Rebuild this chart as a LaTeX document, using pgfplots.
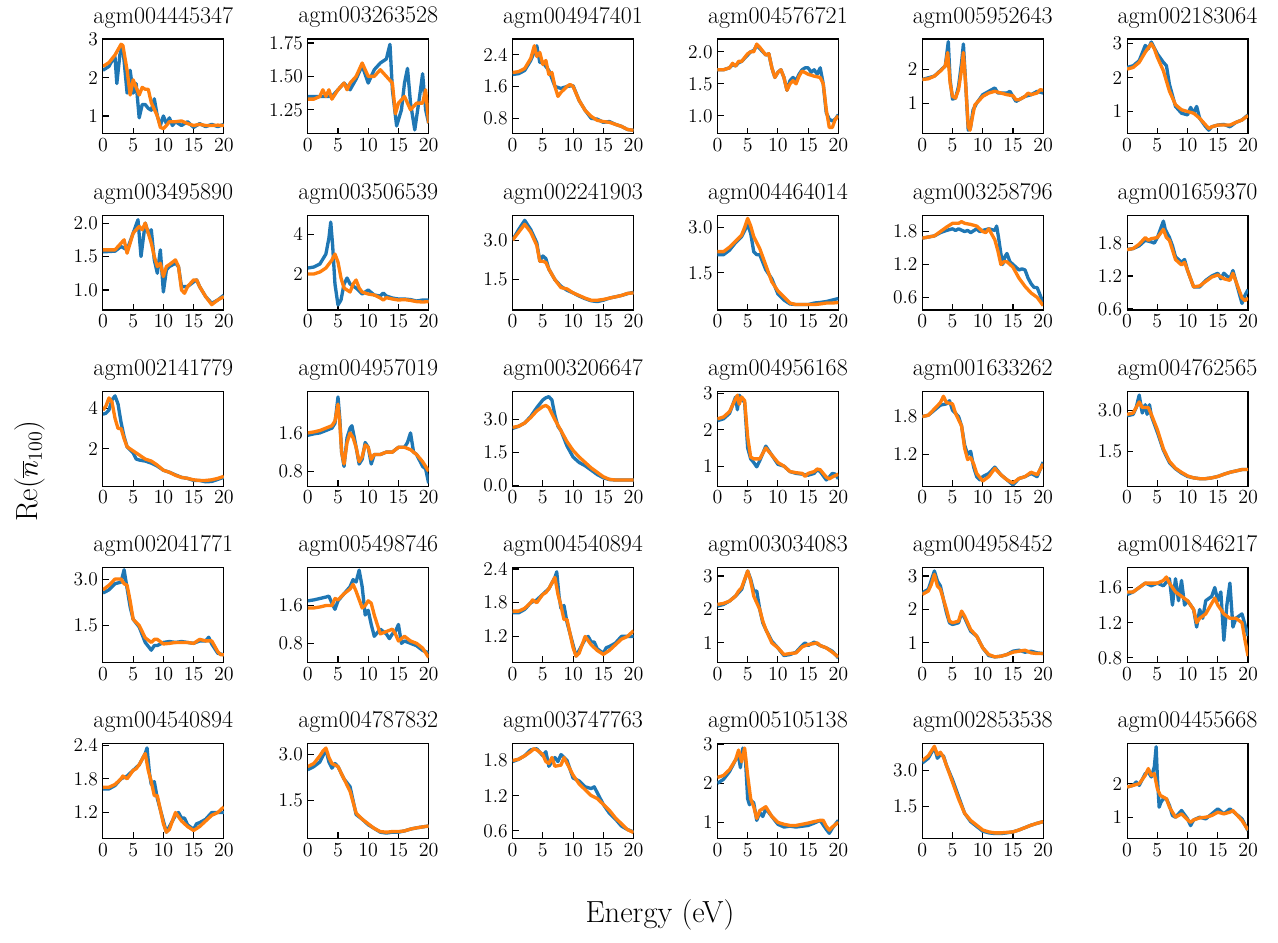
\documentclass[border=0pt]{standalone}
\usepackage{pgfplots}
\pgfplotsset{compat=1.18}
\usepgfplotslibrary{groupplots}
\usetikzlibrary{calc}
\definecolor{mplblue}{RGB}{31,119,180}
\definecolor{mplorange}{RGB}{255,127,14}
\pgfplotsset{
  bl/.style={color=mplblue, line width=2.4pt, line join=round, no markers},
  or/.style={color=mplorange, line width=2.4pt, line join=round, no markers},
  every axis title/.style={at={(0.5,1)}, anchor=base, yshift=11.5pt, font=\fontsize{17.3}{20}\selectfont},
}
\begin{document}
\begin{tikzpicture}
\begin{groupplot}[
  group style={group size=6 by 5, horizontal sep=60.48pt, vertical sep=58.5pt},
  width=87.12pt, height=68.4pt, scale only axis,
  xmin=0, xmax=20, xtick={0,5,10,15,20},
  tick pos=left, tick align=inside, major tick length=4.5pt,
  tick style={line width=0.8pt, black},
  axis line style={line width=0.8pt},
  ticklabel style={font=\fontsize{14}{16}\selectfont},
]
% row 1
\nextgroupplot[title={agm004445347}, ymin=0.53, ymax=3.02, ytick={1,2,3}, yticklabels={1,2,3}]
\addplot[bl] coordinates {(0,2.2) (1,2.3) (1.5,2.45) (2,2.55) (2.3,1.85) (2.8,2.6) (3.2,2.85) (3.5,2.45) (4,1.6) (4.5,2.2) (5,1.6) (5.5,1.85) (6,0.95) (6.5,1.3) (7,1.3) (7.5,1.2) (8,1.15) (8.5,1.45) (9,1.0) (9.5,0.75) (10,1.0) (10.5,0.8) (11,0.95) (11.5,0.75) (12,0.85) (13,0.75) (14,0.85) (15,0.7) (16,0.8) (17,0.72) (18,0.78) (19,0.72) (20,0.78)};
\addplot[or] coordinates {(0,2.3) (1,2.4) (2,2.6) (3,2.88) (3.3,2.85) (4,2.2) (4.5,1.55) (5,1.95) (5.5,1.75) (6,1.55) (6.5,1.75) (7,1.7) (7.5,1.7) (8,1.35) (9,1.0) (9.5,0.7) (10,0.67) (10.5,0.75) (11,0.85) (12,0.85) (13,0.87) (14,0.8) (15,0.75) (16,0.78) (17,0.75) (18,0.75) (19,0.76) (20,0.75)};
\nextgroupplot[title={agm003263528}, ymin=1.07, ymax=1.78, ytick={1.25,1.5,1.75}, yticklabels={1.25,1.50,1.75}]
\addplot[bl] coordinates {(0,1.35) (2,1.35) (4,1.35) (5,1.4) (6,1.45) (7,1.4) (8,1.48) (9,1.58) (10,1.45) (11,1.55) (12,1.6) (13,1.63) (13.6,1.74) (14,1.4) (14.7,1.13) (15.5,1.25) (16,1.45) (16.5,1.56) (17,1.3) (17.7,1.1) (18.5,1.35) (19,1.52) (19.5,1.25) (20,1.15)};
\addplot[or] coordinates {(0,1.33) (1,1.33) (2,1.35) (2.5,1.4) (3,1.35) (3.5,1.4) (4,1.33) (5,1.4) (6,1.45) (6.5,1.4) (7,1.45) (8,1.5) (9,1.6) (10,1.5) (11,1.5) (12,1.55) (13,1.5) (14,1.45) (14.5,1.22) (15,1.3) (16,1.35) (17,1.25) (18,1.3) (19,1.3) (19.5,1.4) (20,1.15)};
\nextgroupplot[title={agm004947401}, ymin=0.41, ymax=2.79, ytick={0.8,1.6,2.4}, yticklabels={0.8,1.6,2.4}]
\addplot[bl] coordinates {(0,1.9) (1,1.92) (2,2.0) (3,2.25) (4,2.62) (4.5,2.2) (5,2.2) (6,2.0) (7,1.6) (8,1.55) (9,1.6) (10,1.62) (11,1.25) (12,1.0) (13,0.8) (14,0.78) (15,0.7) (16,0.72) (17,0.65) (18,0.6) (19,0.52) (20,0.5)};
\addplot[or] coordinates {(0,1.95) (1,1.97) (2,2.05) (3,2.3) (3.6,2.62) (4,2.35) (4.5,2.45) (5,2.15) (5.5,2.25) (6,1.9) (6.5,1.95) (7,1.6) (7.5,1.35) (8,1.45) (9,1.6) (9.5,1.65) (10,1.6) (11,1.25) (12,1.0) (13,0.85) (14,0.75) (15,0.72) (16,0.7) (17,0.65) (18,0.6) (19,0.52) (20,0.5)};
\nextgroupplot[title={agm004576721}, ymin=0.72, ymax=2.2, ytick={1,1.5,2}, yticklabels={1.0,1.5,2.0}]
\addplot[bl] coordinates {(0,1.72) (1,1.72) (2,1.75) (2.5,1.8) (3,1.78) (3.5,1.83) (4,1.85) (5,1.95) (5.5,2.0) (6,2.02) (6.5,2.1) (7,2.05) (8,1.95) (8.5,1.97) (9,1.75) (9.5,1.6) (10,1.68) (10.5,1.72) (11,1.6) (11.5,1.4) (12,1.55) (12.5,1.6) (13,1.55) (13.5,1.65) (14,1.72) (14.5,1.75) (15,1.75) (15.5,1.68) (16,1.72) (16.5,1.65) (17,1.75) (17.5,1.5) (18,1.05) (18.5,0.95) (19,0.92) (19.5,0.95) (20,1.02)};
\addplot[or] coordinates {(0,1.72) (1,1.72) (2,1.75) (2.5,1.82) (3,1.78) (3.5,1.85) (4,1.85) (5,1.97) (5.5,2.0) (6,2.0) (6.5,2.12) (7,2.07) (8,1.95) (8.5,1.97) (9,1.75) (9.5,1.6) (10,1.68) (10.5,1.72) (11,1.6) (11.5,1.4) (12,1.5) (12.5,1.55) (13,1.5) (13.5,1.62) (14,1.7) (15,1.65) (16,1.62) (17,1.6) (17.5,1.5) (18,1.1) (18.5,0.82) (19,0.82) (19.5,0.95) (20,1.0)};
\nextgroupplot[title={agm005952643}, ymin=0.09, ymax=2.9, ytick={1,2}, yticklabels={1,2}]
\addplot[bl] coordinates {(0,1.7) (2,1.8) (3.8,2.1) (4.3,2.82) (4.6,1.7) (5,1.12) (5.5,1.15) (6,1.5) (6.5,2.2) (6.8,2.75) (7.2,1.5) (7.6,0.2) (8,0.3) (8.4,0.8) (9,1.0) (10,1.25) (11,1.35) (12,1.45) (12.5,1.3) (13,1.3) (14,1.3) (14.5,1.35) (15,1.2) (15.5,1.05) (16,1.1) (17,1.2) (18,1.25) (19,1.35) (20,1.3)};
\addplot[or] coordinates {(0,1.7) (1,1.72) (2,1.8) (3,1.95) (3.8,2.1) (4.2,2.5) (4.6,1.6) (5,1.2) (5.5,1.15) (6,1.4) (6.5,2.0) (6.8,2.5) (7.2,1.5) (7.6,0.3) (7.9,0.2) (8.3,0.6) (8.7,0.95) (9.5,1.1) (10,1.2) (11,1.3) (12,1.35) (13,1.3) (14,1.25) (15,1.22) (15.5,1.1) (16,1.1) (17,1.2) (17.5,1.3) (18,1.25) (19,1.3) (19.5,1.4) (20,1.38)};
\nextgroupplot[title={agm002183064}, ymin=0.34, ymax=3.14, ytick={1,2,3}, yticklabels={1,2,3}]
\addplot[bl] coordinates {(0,2.3) (1,2.35) (2,2.5) (3,2.95) (3.5,2.85) (4,3.05) (5,2.7) (6,2.45) (6.5,2.35) (7,1.8) (8,1.15) (9,0.95) (10,0.9) (10.5,1.12) (11,0.95) (11.5,1.15) (12,0.8) (13,0.55) (13.5,0.45) (14,0.55) (15,0.6) (16,0.62) (17,0.55) (18,0.68) (19,0.75) (20,0.9)};
\addplot[or] coordinates {(0,2.25) (1,2.3) (2,2.45) (3,2.75) (4,3.0) (4.5,2.85) (5,2.6) (6,2.2) (7,1.6) (8,1.2) (9,1.05) (10,1.0) (11,0.95) (12,0.8) (13,0.6) (13.5,0.5) (14,0.55) (15,0.6) (16,0.6) (17,0.6) (18,0.68) (19,0.75) (20,0.88)};
% row 2
\nextgroupplot[title={agm003495890}, ymin=0.7, ymax=2.12, ytick={1,1.5,2}, yticklabels={1.0,1.5,2.0}]
\addplot[bl] coordinates {(0,1.57) (2,1.58) (3,1.65) (4,1.6) (5,1.85) (5.8,2.05) (6.3,1.5) (7,2.0) (7.5,1.85) (8,1.9) (8.5,1.45) (9,1.25) (9.5,1.6) (10,0.97) (10.5,1.3) (11,1.35) (12,1.4) (12.5,1.35) (13,1.05) (14,1.05) (15,1.12) (15.5,1.15) (16,1.05) (17,0.9) (18,0.8) (19,0.85) (20,0.92)};
\addplot[or] coordinates {(0,1.6) (1,1.6) (2,1.6) (3,1.7) (3.5,1.75) (4,1.55) (4.5,1.7) (5,1.85) (6,1.95) (6.5,1.9) (7,2.0) (7.5,1.85) (8,1.7) (8.5,1.5) (9,1.35) (9.5,1.4) (10,1.2) (10.5,1.35) (11,1.38) (12,1.45) (12.5,1.35) (13,1.0) (13.5,0.95) (14,1.05) (15,1.15) (15.5,1.15) (16,1.05) (17,0.9) (18,0.78) (19,0.85) (20,0.9)};
\nextgroupplot[title={agm003506539}, ymin=0.2, ymax=4.95, ytick={2,4}, yticklabels={2,4}]
\addplot[bl] coordinates {(0,2.3) (1,2.35) (2,2.5) (3,3.0) (3.5,3.8) (3.8,4.6) (4.1,3.5) (4.5,1.5) (5,0.45) (5.5,0.7) (6,1.5) (6.5,1.8) (7,1.5) (8,1.3) (9,1.0) (10,1.2) (11,0.95) (12,0.9) (12.5,1.05) (13,0.9) (14,0.8) (15,0.75) (16,0.75) (17,0.72) (18,0.65) (19,0.7) (20,0.7)};
\addplot[or] coordinates {(0,2.0) (1,2.0) (2,2.1) (3,2.3) (4,2.7) (4.5,3.0) (5,2.6) (5.5,1.8) (6,1.3) (6.5,1.2) (7,1.1) (7.5,1.5) (8,1.7) (8.5,1.3) (9,1.1) (10,1.0) (11,0.95) (12,0.8) (12.5,0.7) (13,0.82) (14,0.75) (15,0.7) (16,0.72) (17,0.68) (18,0.62) (19,0.6) (20,0.62)};
\nextgroupplot[title={agm002241903}, ymin=0.35, ymax=3.95, ytick={1.5,3}, yticklabels={1.5,3.0}]
\addplot[bl] coordinates {(0,3.0) (1,3.4) (2,3.75) (3,3.4) (4,2.9) (4.5,2.2) (5,2.4) (5.5,2.3) (6,1.9) (7,1.5) (8,1.25) (9,1.1) (10,1.0) (11,0.88) (12,0.78) (13,0.7) (14,0.67) (15,0.72) (16,0.8) (17,0.85) (18,0.9) (19,0.97) (20,1.02)};
\addplot[or] coordinates {(0,3.0) (1,3.3) (2,3.6) (3,3.3) (4,2.8) (4.5,2.2) (5,2.2) (5.5,2.15) (6,1.9) (7,1.5) (8,1.2) (9,1.15) (10,1.0) (11,0.9) (12,0.8) (13,0.72) (14,0.72) (15,0.75) (16,0.8) (17,0.85) (18,0.9) (19,0.98) (20,1.0)};
\nextgroupplot[title={agm004464014}, ymin=0.27, ymax=3.41, ytick={1.5,3}, yticklabels={1.5,3.0}]
\addplot[bl] coordinates {(0,2.1) (1,2.1) (2,2.25) (3,2.5) (4,2.7) (5,3.1) (5.5,2.8) (6,2.2) (6.5,2.1) (7,2.1) (8,1.6) (9,1.3) (10,0.8) (11,0.6) (12,0.47) (13,0.45) (14,0.45) (15,0.45) (16,0.5) (17,0.52) (18,0.55) (19,0.6) (20,0.65)};
\addplot[or] coordinates {(0,2.2) (1,2.2) (2,2.35) (3,2.55) (4,2.75) (4.5,3.0) (5,3.3) (5.5,3.05) (6,2.7) (7,2.3) (8,1.75) (9,1.2) (10,0.9) (11,0.7) (12,0.5) (13,0.45) (14,0.45) (15,0.45) (16,0.45) (17,0.47) (18,0.5) (19,0.5) (20,0.52)};
\nextgroupplot[title={agm003258796}, ymin=0.37, ymax=2.1, ytick={0.6,1.2,1.8}, yticklabels={0.6,1.2,1.8}]
\addplot[bl] coordinates {(0,1.68) (2,1.72) (3,1.78) (4,1.82) (5,1.85) (5.5,1.82) (6,1.85) (7,1.8) (7.5,1.82) (8,1.78) (9,1.85) (9.5,1.8) (10,1.82) (11,1.85) (12,1.82) (12.3,1.9) (12.6,1.7) (13,1.4) (13.3,1.2) (13.7,1.35) (14,1.4) (14.5,1.25) (15,1.2) (15.5,1.15) (16,1.1) (16.5,1.12) (17,1.1) (17.5,0.95) (18,0.85) (18.5,0.78) (19,0.78) (20,0.5)};
\addplot[or] coordinates {(0,1.68) (1,1.7) (2,1.72) (3,1.8) (4,1.88) (5,1.95) (6,1.95) (6.5,1.98) (7,1.95) (8,1.93) (9,1.9) (10,1.8) (10.5,1.78) (11,1.85) (12,1.65) (12.5,1.45) (13,1.2) (13.5,1.25) (14,1.25) (15,1.15) (16,0.95) (17,0.8) (18,0.68) (19,0.6) (20,0.45)};
\nextgroupplot[title={agm001659370}, ymin=0.58, ymax=2.31, ytick={0.6,1.2,1.8}, yticklabels={0.6,1.2,1.8}]
\addplot[bl] coordinates {(0,1.68) (1,1.7) (2,1.75) (3,1.85) (4,1.82) (4.5,1.8) (5,1.9) (6,2.2) (6.3,2.05) (7,1.9) (7.5,1.75) (8,1.55) (9,1.45) (9.5,1.5) (10,1.3) (11,1.0) (12,1.0) (13,1.12) (14,1.2) (15,1.25) (15.5,1.15) (16,1.25) (16.5,1.2) (17,1.15) (17.5,1.3) (18,1.1) (19,0.7) (19.5,0.85) (20,0.95)};
\addplot[or] coordinates {(0,1.68) (1,1.7) (2,1.78) (3,1.9) (3.5,1.85) (4,1.88) (5,1.9) (6,2.05) (6.5,1.9) (7,1.85) (8,1.5) (9,1.4) (9.5,1.45) (10,1.3) (11,1.0) (12,1.02) (13,1.1) (14,1.18) (15,1.22) (16,1.15) (17,1.12) (17.5,1.25) (18,1.1) (19,0.8) (19.5,0.75) (20,0.8)};
% row 3
\nextgroupplot[title={agm002141779}, ymin=0.17, ymax=4.83, ytick={2,4}, yticklabels={2,4}]
\addplot[bl] coordinates {(0,3.7) (0.5,3.75) (1,3.9) (1.5,4.4) (2,4.6) (2.5,4.2) (3,3.3) (3.5,2.6) (4,2.1) (5,1.8) (5.5,1.5) (6,1.45) (7,1.4) (8,1.3) (9,1.15) (10,0.95) (11,0.85) (12,0.72) (13,0.6) (14,0.55) (15,0.45) (16,0.45) (17,0.38) (18,0.4) (19,0.5) (20,0.6)};
\addplot[or] coordinates {(0,3.9) (0.5,4.1) (1,4.5) (1.5,4.3) (2,3.5) (2.5,3.0) (3,3.0) (3.5,2.5) (4,2.1) (5,1.9) (6,1.7) (7,1.5) (8,1.4) (9,1.2) (10,0.95) (11,0.85) (12,0.7) (13,0.6) (14,0.55) (15,0.48) (16,0.45) (17,0.45) (18,0.48) (19,0.55) (20,0.65)};
\nextgroupplot[title={agm004957019}, ymin=0.49, ymax=2.47, ytick={0.8,1.6}, yticklabels={0.8,1.6}]
\addplot[bl] coordinates {(0,1.55) (1,1.58) (2,1.6) (3,1.65) (4,1.7) (4.5,1.8) (5,2.35) (5.3,1.9) (5.6,1.2) (6,0.9) (6.5,1.5) (7,1.7) (7.3,1.75) (7.7,1.5) (8,1.3) (8.5,0.95) (9,1.05) (9.5,1.4) (10,1.3) (10.5,0.95) (11,1.15) (12,1.15) (13,1.2) (14,1.2) (15,1.3) (16,1.3) (16.5,1.4) (17,1.6) (17.5,1.2) (18,1.15) (19,0.9) (19.5,0.85) (20,0.55)};
\addplot[or] coordinates {(0,1.6) (1,1.62) (2,1.65) (3,1.7) (4,1.75) (4.5,1.85) (5,2.2) (5.3,1.8) (5.6,1.2) (6,0.95) (6.5,1.4) (7,1.6) (7.5,1.5) (8,1.3) (8.5,1.0) (9,1.1) (9.5,1.35) (10,1.3) (10.5,1.05) (11,1.15) (12,1.15) (13,1.2) (14,1.2) (15,1.3) (16,1.3) (17,1.25) (18,1.15) (19,1.0) (19.5,0.9) (20,0.8)};
\nextgroupplot[title={agm003206647}, ymin=-0.03, ymax=4.3, ytick={0,1.5,3}, yticklabels={0.0,1.5,3.0}]
\addplot[bl] coordinates {(0,2.6) (1,2.7) (2,2.85) (3,3.15) (4,3.55) (5,3.9) (5.5,4.0) (6,4.05) (6.5,3.9) (7,3.2) (7.5,2.7) (8,2.5) (9,1.8) (10,1.3) (11,1.05) (12,0.9) (13,0.7) (14,0.5) (15,0.35) (16,0.27) (17,0.25) (18,0.25) (19,0.25) (20,0.25)};
\addplot[or] coordinates {(0,2.65) (1,2.7) (2,2.85) (3,3.1) (4,3.4) (5,3.6) (5.5,3.65) (6,3.55) (7,3.0) (8,2.5) (9,2.0) (10,1.6) (11,1.3) (12,1.05) (13,0.8) (14,0.6) (15,0.4) (16,0.28) (17,0.25) (18,0.25) (19,0.25) (20,0.25)};
\nextgroupplot[title={agm004956168}, ymin=0.45, ymax=3.06, ytick={1,2,3}, yticklabels={1,2,3}]
\addplot[bl] coordinates {(0,2.25) (1,2.3) (2,2.45) (3,2.9) (3.3,2.55) (3.6,2.95) (4,2.85) (4.5,2.75) (5,1.5) (5.5,1.2) (6,1.1) (6.5,0.98) (7,1.15) (8,1.55) (9,1.3) (10,1.05) (11,1.0) (12,0.85) (13,0.8) (14,0.78) (15,0.75) (16,0.8) (16.5,0.9) (17,0.85) (18,0.62) (18.5,0.7) (19,0.8) (19.5,0.78) (20,0.65)};
\addplot[or] coordinates {(0,2.3) (1,2.35) (2,2.5) (3,2.85) (3.3,2.95) (3.6,2.7) (4,2.9) (4.5,2.8) (5,1.8) (5.5,1.25) (6,1.2) (7,1.2) (7.5,1.35) (8,1.5) (9,1.3) (10,1.1) (11,1.0) (12,0.85) (13,0.82) (14,0.8) (14.5,0.72) (15,0.8) (16,0.85) (16.5,0.92) (17,0.9) (18,0.7) (18.5,0.65) (19,0.7) (20,0.78)};
\nextgroupplot[title={agm001633262}, ymin=0.7, ymax=2.2, ytick={1.2,1.8}, yticklabels={1.2,1.8}]
\addplot[bl] coordinates {(0,1.8) (1,1.82) (2,1.9) (3,1.98) (4,2.0) (4.5,2.05) (5,1.9) (5.5,1.85) (6,1.8) (6.5,1.65) (7,1.35) (7.5,1.2) (8,1.25) (8.5,1.0) (9,0.85) (9.5,0.8) (10,0.85) (11,0.9) (12,1.0) (13,0.88) (14,0.8) (15,0.72) (16,0.82) (17,0.85) (18,0.9) (19,0.85) (20,1.08)};
\addplot[or] coordinates {(0,1.8) (1,1.82) (2,1.92) (3,2.02) (3.5,2.12) (4,2.02) (5,2.0) (5.5,1.85) (6,1.75) (6.5,1.65) (7,1.3) (7.5,1.12) (8,1.15) (8.5,1.05) (9,0.9) (10,0.78) (11,0.85) (12,0.98) (13,0.88) (14,0.8) (15,0.75) (16,0.82) (17,0.85) (18,0.92) (19,0.88) (20,1.05)};
\nextgroupplot[title={agm004762565}, ymin=0.25, ymax=3.69, ytick={1.5,3}, yticklabels={1.5,3.0}]
\addplot[bl] coordinates {(0,2.8) (1,2.85) (1.5,3.1) (2,3.55) (2.5,2.9) (3,3.2) (3.3,2.85) (3.7,3.2) (4,2.8) (5,2.2) (6,1.55) (7,1.1) (8,0.88) (9,0.72) (10,0.6) (11,0.55) (12,0.52) (13,0.52) (14,0.55) (15,0.6) (16,0.68) (17,0.75) (18,0.8) (19,0.85) (20,0.85)};
\addplot[or] coordinates {(0,2.85) (1,2.9) (2,3.3) (2.5,3.1) (3,3.1) (3.5,3.1) (4,2.85) (5,2.3) (6,1.6) (7,1.15) (8,0.9) (9,0.75) (10,0.62) (11,0.55) (12,0.52) (13,0.52) (14,0.55) (15,0.6) (16,0.68) (17,0.75) (18,0.8) (19,0.85) (20,0.85)};
% row 4
\nextgroupplot[title={agm002041771}, ymin=0.31, ymax=3.38, ytick={1.5,3}, yticklabels={1.5,3.0}]
\addplot[bl] coordinates {(0,2.55) (1,2.65) (2,2.85) (3,2.9) (3.5,3.3) (4,2.7) (4.5,2.1) (5,1.7) (6,1.45) (7,0.95) (8,0.7) (8.5,0.85) (9,0.85) (10,0.95) (11,0.98) (12,0.95) (13,0.98) (14,0.95) (15,0.92) (16,1.0) (17,1.0) (17.5,1.12) (18,0.9) (19,0.6) (20,0.55)};
\addplot[or] coordinates {(0,2.65) (1,2.8) (2,3.0) (3,3.0) (3.5,2.85) (4,2.8) (4.5,2.3) (5,1.7) (6,1.5) (7,1.1) (8,0.95) (8.5,1.05) (9,1.05) (10,0.9) (11,0.92) (12,0.95) (13,0.95) (14,0.95) (15,0.92) (16,1.05) (17,1.0) (18,1.0) (19,0.65) (19.5,0.55) (20,0.55)};
\nextgroupplot[title={agm005498746}, ymin=0.4, ymax=2.41, ytick={0.8,1.6}, yticklabels={0.8,1.6}]
\addplot[bl] coordinates {(0,1.7) (1,1.72) (2,1.75) (3,1.78) (3.5,1.8) (4,1.65) (4.5,1.52) (5,1.7) (6,1.85) (7,2.0) (7.5,2.15) (8,2.1) (8.5,2.35) (9,2.0) (9.5,1.4) (10,1.5) (10.5,1.2) (11,0.95) (12,1.1) (12.5,1.05) (13,1.0) (13.5,0.9) (14,1.0) (14.5,1.05) (15,1.2) (15.5,0.8) (16,0.85) (17,0.8) (18,0.75) (19,0.65) (20,0.6)};
\addplot[or] coordinates {(0,1.55) (1,1.55) (2,1.57) (3,1.6) (4,1.6) (4.5,1.75) (5,1.72) (6,1.85) (7,1.95) (7.5,2.05) (8,1.9) (9,1.55) (9.5,1.6) (10,1.7) (10.5,1.65) (11,1.4) (12,1.0) (13,1.05) (14,1.1) (14.5,1.0) (15,0.85) (16,0.95) (17,0.85) (18,0.8) (19,0.7) (20,0.5)};
\nextgroupplot[title={agm004540894}, ymin=0.74, ymax=2.43, ytick={1.2,1.8,2.4}, yticklabels={1.2,1.8,2.4}]
\addplot[bl] coordinates {(0,1.62) (1,1.62) (2,1.68) (3,1.8) (4,1.85) (5,1.95) (6,2.05) (7,2.25) (7.3,2.35) (7.7,1.9) (8,1.7) (8.5,1.75) (9,1.45) (10,1.05) (10.5,0.85) (11,0.95) (12,1.15) (12.5,1.2) (13,1.1) (13.5,1.1) (14,0.98) (15,0.9) (15.5,1.0) (16,1.02) (17,1.08) (18,1.2) (19,1.2) (20,1.2)};
\addplot[or] coordinates {(0,1.65) (1,1.65) (2,1.7) (3,1.8) (3.3,1.85) (4,1.8) (5,1.95) (5.5,1.98) (6,2.05) (6.5,2.15) (7,2.25) (7.5,1.95) (8,1.75) (8.5,1.5) (9,1.5) (10,1.0) (10.5,0.85) (11,0.9) (12,1.2) (13,1.05) (14,0.95) (15,0.88) (16,0.95) (17,1.05) (18,1.15) (19,1.2) (20,1.3)};
\nextgroupplot[title={agm003034083}, ymin=0.42, ymax=3.26, ytick={1,2,3}, yticklabels={1,2,3}]
\addplot[bl] coordinates {(0,2.1) (1,2.15) (2,2.25) (3,2.4) (4,2.6) (5,3.15) (5.5,2.9) (6,2.55) (6.5,2.55) (7,2.0) (7.5,1.6) (8,1.4) (9,1.05) (10,0.85) (11,0.62) (12,0.65) (13,0.72) (14,0.92) (14.5,1.0) (15,0.92) (16,1.02) (17,0.92) (18,0.85) (19,0.75) (20,0.55)};
\addplot[or] coordinates {(0,2.15) (1,2.18) (2,2.25) (3,2.4) (3.5,2.55) (4,2.65) (4.5,2.9) (5,3.15) (5.5,2.85) (6,2.4) (7,2.0) (7.5,1.65) (8,1.4) (9,1.0) (10,0.85) (10.5,0.75) (11,0.65) (12,0.68) (13,0.7) (14,0.88) (15,0.95) (16,0.98) (16.5,1.0) (17,0.92) (18,0.85) (19,0.72) (20,0.58)};
\nextgroupplot[title={agm004958452}, ymin=0.42, ymax=3.26, ytick={1,2,3}, yticklabels={1,2,3}]
\addplot[bl] coordinates {(0,2.5) (1,2.6) (2,3.15) (2.5,2.85) (3,2.7) (4,1.9) (4.5,1.6) (5,1.55) (6,1.6) (6.5,1.9) (7,1.75) (8,1.35) (9,1.2) (10,0.85) (11,0.62) (12,0.58) (13,0.6) (14,0.65) (15,0.75) (16,0.78) (17,0.72) (18,0.75) (19,0.7) (20,0.68)};
\addplot[or] coordinates {(0,2.45) (1,2.55) (1.5,2.75) (2,3.05) (2.5,2.7) (3,2.6) (4,2.0) (4.5,1.65) (5,1.6) (6,1.65) (6.5,1.95) (7,1.8) (8,1.4) (9,1.2) (10,0.85) (11,0.65) (12,0.58) (13,0.6) (14,0.65) (15,0.72) (16,0.75) (17,0.78) (18,0.7) (19,0.68) (20,0.68)};
\nextgroupplot[title={agm001846217}, ymin=0.75, ymax=1.83, ytick={0.8,1.2,1.6}, yticklabels={0.8,1.2,1.6}]
\addplot[bl] coordinates {(0,1.52) (1,1.55) (2,1.6) (3,1.65) (4,1.62) (5,1.65) (6,1.62) (7,1.7) (7.5,1.4) (8,1.7) (8.5,1.45) (9,1.68) (9.5,1.4) (10,1.45) (11,1.35) (11.5,1.15) (12,1.35) (12.5,1.25) (13,1.45) (14,1.5) (14.5,1.6) (15,1.45) (15.5,1.55) (16,1.0) (16.5,1.4) (17,1.65) (17.5,1.15) (18,1.25) (19,1.3) (20,1.05)};
\addplot[or] coordinates {(0,1.55) (1,1.55) (2,1.6) (3,1.65) (4,1.65) (5,1.65) (6,1.68) (6.5,1.72) (7,1.65) (8,1.55) (9,1.5) (10,1.45) (11,1.35) (11.5,1.2) (12,1.25) (13,1.3) (14,1.42) (14.5,1.48) (15,1.4) (16,1.3) (17,1.25) (18,1.25) (19,1.2) (19.5,1.0) (20,0.82)};
% row 5
\nextgroupplot[title={agm004540894}, ymin=0.74, ymax=2.43, ytick={1.2,1.8,2.4}, yticklabels={1.2,1.8,2.4}]
\addplot[bl] coordinates {(0,1.62) (1,1.62) (2,1.68) (3,1.8) (4,1.85) (5,1.95) (6,2.05) (7,2.25) (7.3,2.35) (7.7,1.9) (8,1.7) (8.5,1.75) (9,1.45) (10,1.05) (10.5,0.85) (11,0.95) (12,1.15) (12.5,1.2) (13,1.1) (13.5,1.1) (14,0.98) (15,0.9) (15.5,1.0) (16,1.02) (17,1.08) (18,1.2) (19,1.2) (20,1.2)};
\addplot[or] coordinates {(0,1.65) (1,1.65) (2,1.7) (3,1.8) (3.3,1.85) (4,1.8) (5,1.95) (5.5,1.98) (6,2.05) (6.5,2.15) (7,2.25) (7.5,1.95) (8,1.75) (8.5,1.5) (9,1.5) (10,1.0) (10.5,0.85) (11,0.9) (12,1.2) (13,1.05) (14,0.95) (15,0.88) (16,0.95) (17,1.05) (18,1.15) (19,1.2) (20,1.3)};
\nextgroupplot[title={agm004787832}, ymin=0.28, ymax=3.35, ytick={1.5,3}, yticklabels={1.5,3.0}]
\addplot[bl] coordinates {(0,2.5) (1,2.6) (2,2.75) (3,3.15) (3.5,2.75) (4,2.55) (4.5,2.7) (5,2.6) (6,2.2) (7,1.95) (8,1.05) (9,0.9) (10,0.72) (11,0.6) (12,0.48) (13,0.45) (14,0.48) (15,0.48) (16,0.52) (17,0.58) (18,0.62) (19,0.65) (20,0.68)};
\addplot[or] coordinates {(0,2.6) (1,2.7) (2,2.95) (2.5,3.1) (3,3.2) (3.5,2.9) (4,2.7) (5,2.6) (6,2.2) (7,1.8) (8,1.1) (9,0.9) (10,0.75) (11,0.6) (12,0.5) (13,0.48) (14,0.5) (15,0.5) (16,0.52) (17,0.58) (18,0.62) (19,0.65) (20,0.68)};
\nextgroupplot[title={agm003747763}, ymin=0.47, ymax=2.09, ytick={0.6,1.2,1.8}, yticklabels={0.6,1.2,1.8}]
\addplot[bl] coordinates {(0,1.78) (1,1.82) (2,1.88) (3,1.98) (4,2.0) (5,1.88) (5.5,1.95) (6,1.7) (7,1.85) (7.5,1.78) (8,1.9) (8.5,1.85) (9,1.8) (10,1.5) (11,1.45) (12,1.35) (13,1.32) (13.5,1.35) (14,1.25) (15,1.05) (16,0.9) (17,0.8) (18,0.68) (19,0.62) (20,0.58)};
\addplot[or] coordinates {(0,1.8) (1,1.82) (2,1.88) (3,1.95) (3.5,2.0) (4,1.98) (5,1.9) (5.5,1.78) (6,1.75) (6.5,1.85) (7,1.7) (8,1.72) (8.5,1.85) (9,1.75) (10,1.55) (11,1.4) (12,1.3) (13,1.2) (14,1.15) (15,1.05) (16,0.95) (17,0.82) (18,0.72) (19,0.62) (20,0.57)};
\nextgroupplot[title={agm005105138}, ymin=0.59, ymax=3.02, ytick={1,2,3}, yticklabels={1,2,3}]
\addplot[bl] coordinates {(0,2.0) (1,2.1) (2,2.3) (3,2.6) (3.5,2.7) (3.8,2.4) (4.2,2.9) (4.6,2.7) (5,1.6) (5.3,1.45) (5.6,1.55) (6,1.5) (6.5,1.05) (7,1.25) (7.5,1.15) (8,1.35) (9,1.15) (10,0.95) (11,0.88) (12,0.9) (13,0.88) (14,0.9) (15,0.92) (16,0.98) (17,1.05) (18,0.82) (18.5,0.72) (19,0.85) (20,1.05)};
\addplot[or] coordinates {(0,2.15) (1,2.2) (2,2.35) (3,2.6) (3.5,2.85) (4,2.55) (4.5,2.9) (5,2.2) (5.5,1.6) (6,1.4) (6.5,1.1) (7,1.3) (8,1.4) (9,1.15) (10,1.0) (11,0.95) (12,0.92) (13,0.92) (14,0.95) (15,0.98) (16,1.02) (17,1.05) (17.5,1.05) (18,0.9) (18.5,0.8) (19,0.88) (20,1.0)};
\nextgroupplot[title={agm002853538}, ymin=0.15, ymax=4.12, ytick={1.5,3}, yticklabels={1.5,3.0}]
\addplot[bl] coordinates {(0,3.3) (1,3.5) (2,3.95) (2.5,3.5) (3,3.65) (3.5,3.6) (4,3.2) (5,2.6) (6,1.9) (7,1.2) (8,0.85) (9,0.65) (10,0.45) (11,0.38) (12,0.35) (13,0.35) (14,0.38) (15,0.42) (16,0.5) (17,0.6) (18,0.7) (19,0.78) (20,0.85)};
\addplot[or] coordinates {(0,3.4) (1,3.6) (2,4.0) (2.5,3.65) (3,3.75) (3.5,3.55) (4,3.2) (5,2.5) (6,1.8) (7,1.2) (8,0.9) (9,0.7) (10,0.5) (11,0.42) (12,0.38) (13,0.38) (14,0.4) (15,0.42) (16,0.5) (17,0.6) (18,0.7) (19,0.78) (20,0.85)};
\nextgroupplot[title={agm004455668}, ymin=0.37, ymax=3.2, ytick={1,2}, yticklabels={1,2}]
\addplot[bl] coordinates {(0,1.9) (1,1.95) (1.5,2.05) (2,1.95) (3,2.3) (3.5,2.35) (4,2.2) (4.5,2.5) (4.8,3.1) (5,2.2) (5.3,1.3) (5.6,1.45) (6,1.55) (6.5,1.55) (7,1.35) (7.5,1.05) (8,1.0) (9,1.2) (10,0.95) (10.5,0.75) (11,0.92) (12,1.0) (13,0.95) (14,1.1) (15,1.25) (16,1.1) (17,1.25) (18,1.1) (19,0.95) (20,0.6)};
\addplot[or] coordinates {(0,1.9) (1,1.95) (2,2.0) (3,2.25) (3.5,2.45) (4,2.25) (4.5,2.3) (5,1.85) (5.5,1.65) (6,1.6) (6.5,1.55) (7,1.3) (7.5,1.15) (8,1.0) (9,1.1) (10,0.92) (10.5,0.85) (11,0.92) (12,0.98) (13,1.0) (14,1.05) (15,1.15) (16,1.1) (17,1.15) (17.5,1.2) (18,1.1) (19,0.9) (20,0.62)};
\end{groupplot}
\coordinate (C) at ($(group c1r1.north west)!0.5!(group c6r5.south east)$);
\coordinate (L) at (C -| group c1r1.west);
\coordinate (B) at (C |- group c1r5.south);
\node[rotate=90, font=\fontsize{22}{26}\selectfont] at ([xshift=-52.6pt,yshift=-23.4pt]L) {Re($\overline{n}_{100}$)};
\node[font=\fontsize{22}{26}\selectfont] at ([xshift=-11.2pt,yshift=-55.4pt]B) {Energy (eV)};
\pgfresetboundingbox
\path ([xshift=-74.16pt,yshift=28.08pt]group c1r1.north west) rectangle ([xshift=21.6pt,yshift=-74.88pt]group c6r5.south east);
\end{tikzpicture}
\end{document}
